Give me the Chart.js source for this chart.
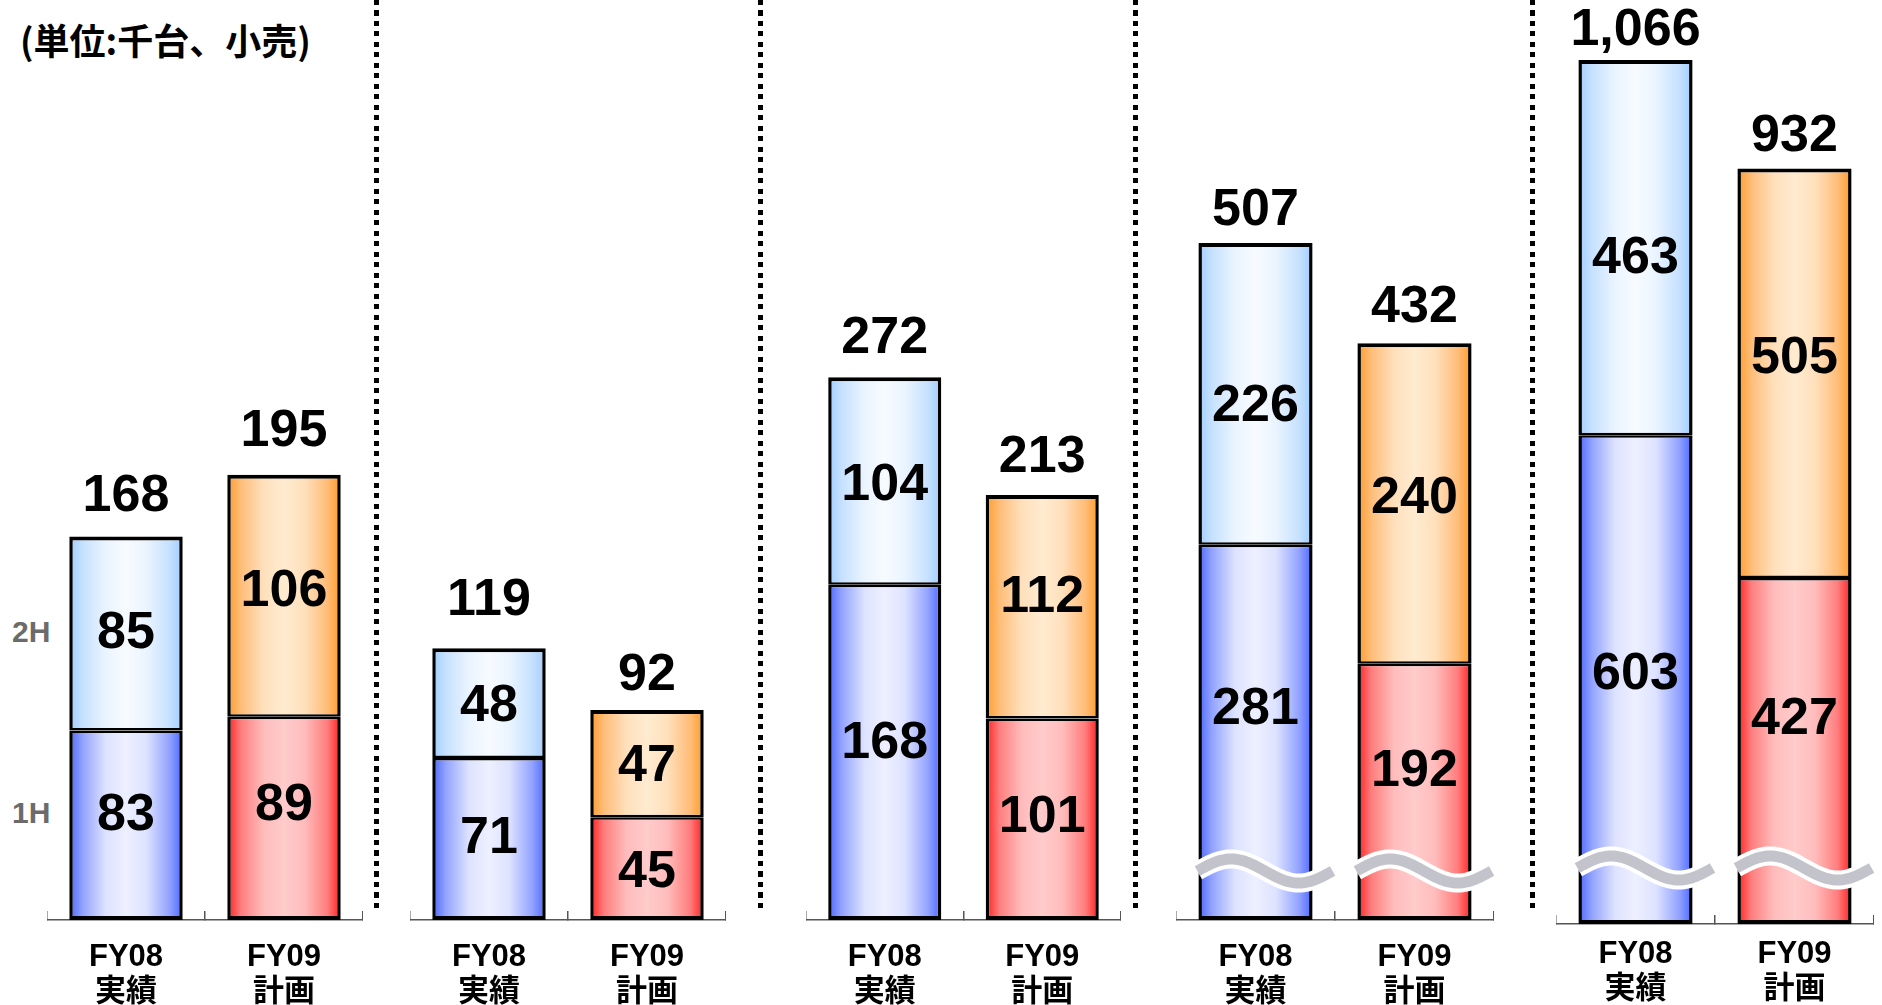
<!DOCTYPE html>
<html>
<head>
<meta charset="utf-8">
<script src="https://cdn.jsdelivr.net/npm/chart.js@4.4.1/dist/chart.umd.min.js"></script>
<style>
html,body{margin:0;padding:0;background:#fff;}
body{width:1882px;height:1005px;position:relative;overflow:hidden;}
.box{position:absolute;top:0;height:1005px;}
.sep{position:absolute;top:0;width:5px;height:910px;background:repeating-linear-gradient(to bottom,#000 0 5px,transparent 5px 10.5px);}
#unit{position:absolute;left:20px;top:21px;font:bold 36px "Noto Sans CJK JP";line-height:1;white-space:nowrap;}
.half{position:absolute;left:12px;font:bold 30px "Liberation Sans";color:#6b6b6b;line-height:1;}
</style>
</head>
<body>
<div id="unit">(単位:千台、小売)</div>
<div class="half" style="top:617px">2H</div>
<div class="half" style="top:798px">1H</div>

<div class="sep" style="left:374px"></div>
<div class="sep" style="left:758px"></div>
<div class="sep" style="left:1133px"></div>
<div class="sep" style="left:1530px"></div>

<div class="box" style="left:47px;width:316px"><canvas id="g0" width="316" height="1005"></canvas></div>
<div class="box" style="left:410px;width:316px"><canvas id="g1" width="316" height="1005"></canvas></div>
<div class="box" style="left:806px;width:315px"><canvas id="g2" width="315" height="1005"></canvas></div>
<div class="box" style="left:1176px;width:318px"><canvas id="g3" width="318" height="1005"></canvas></div>
<div class="box" style="left:1556px;width:318px"><canvas id="g4" width="318" height="1005"></canvas></div>

<script>
// data (thousand units, retail), one entry per panel: [FY08 actual, FY09 plan]
const categories = [['FY08', '実績'], ['FY09', '計画']];
const firstHalf  = [[83, 89], [71, 45], [168, 101], [281, 192], [603, 427]];
const secondHalf = [[85, 106], [48, 47], [104, 112], [226, 240], [463, 505]];
const totals     = [[168, 195], [119, 92], [272, 213], [507, 432], [1066, 932]];
const hasBreak   = [false, false, false, true, true];

// per panel scale / layout
const yMax      = [403, 403, 461, 689, 1140];
const axisY     = [920, 920, 920, 920, 924];
const tickPad   = [29, 29, 29, 29, 22];
const totalGap  = [[44, 47], [52, 39], [43, 42], [37, 40], [34, 36]];
const shift1H   = [[-14, -17], [-5, 0], [-13, -6], [-27, -24], [-9, -36]];
const shift2H   = [[-4, -8], [-1, -1], [0, -13], [8, -9], [7, -19]];
const waveUp    = [0, 0, 0, 49, 56];

const BAR_PCT = 0.718;
const FONT = '"Liberation Sans", "Noto Sans CJK JP", sans-serif';

// gradient colours: [edge, between, light, centre]
const colBlue  = ['#4a68ff', '#93a3ff', '#dde2ff', '#eef0ff'];
const colSky   = ['#9fcdff', '#c6e1ff', '#eaf4ff', '#f7fbff'];
const colRed   = ['#ff1f1f', '#ff7d7d', '#ffbcbc', '#ffcbcb'];
const colOrng  = ['#ff9a2a', '#ffbd78', '#ffe0bc', '#ffebd0'];

function grad(colsByIndex){
  return (c) => {
    const cols = colsByIndex[c.dataIndex] || colsByIndex[0];
    const chart = c.chart, area = chart.chartArea;
    if(!area || c.type !== 'data') return cols[0];
    const x = chart.scales.x.getPixelForValue(c.dataIndex);
    const hw = (area.right - area.left) / 2 * BAR_PCT / 2;
    const g = chart.ctx.createLinearGradient(x - hw, 0, x + hw, 0);
    g.addColorStop(0, cols[0]);
    g.addColorStop(0.12, cols[1]);
    g.addColorStop(0.32, cols[2]);
    g.addColorStop(0.5, cols[3]);
    g.addColorStop(0.68, cols[2]);
    g.addColorStop(0.88, cols[1]);
    g.addColorStop(1, cols[0]);
    return g;
  };
}

// Wave break marks + value labels
const labelPlugin = {
  id: 'segLabels',
  afterDatasetsDraw(chart, args, opts){
    const p = opts.panel;
    const ctx = chart.ctx;
    const m1 = chart.getDatasetMeta(0).data;
    const m2 = chart.getDatasetMeta(1).data;
    ctx.save();

    if(hasBreak[p]){
      const cy = chart.chartArea.bottom - waveUp[p];
      m1.forEach(el => {
        const b = el.getProps(['x', 'width'], true);
        const x0 = b.x - b.width / 2 - 1, x1 = b.x + b.width / 2 + 20;
        ctx.beginPath();
        for(let k = 0; k <= 60; k++){
          const t = k / 60;
          const px = x0 + (x1 - x0) * t, py = cy - 12 * Math.sin(2 * Math.PI * t);
          if(k == 0) ctx.moveTo(px, py); else ctx.lineTo(px, py);
        }
        ctx.lineCap = 'butt';
        ctx.lineJoin = 'round';
        ctx.strokeStyle = '#fff';
        ctx.lineWidth = 19;
        ctx.stroke();
        ctx.strokeStyle = '#c3c3cb';
        ctx.lineWidth = 11;
        ctx.stroke();
      });
    }

    ctx.font = 'bold 52px ' + FONT;
    ctx.fillStyle = '#000';
    ctx.textAlign = 'center';
    ctx.textBaseline = 'alphabetic';
    const half = 52 * 0.358;
    [[m1, firstHalf, shift1H], [m2, secondHalf, shift2H]].forEach(([meta, vals, shift]) => {
      meta.forEach((el, i) => {
        const b = el.getProps(['x', 'y', 'base'], true);
        const cy = (b.y + b.base) / 2 + shift[p][i];
        ctx.fillText(vals[p][i].toLocaleString('en-US'), b.x, cy + half);
      });
    });
    m2.forEach((el, i) => {
      const b = el.getProps(['x', 'y'], true);
      ctx.fillText(totals[p][i].toLocaleString('en-US'), b.x, b.y - totalGap[p][i] + half);
    });
    ctx.restore();
  }
};

for(let p = 0; p < 5; p++){
  const ctx = document.getElementById('g' + p).getContext('2d');
  new Chart(ctx, {
    type: 'bar',
    data: {
      labels: categories,
      datasets: [{
        label: '1H',
        data: firstHalf[p],
        backgroundColor: grad([colBlue, colRed]),
        borderColor: '#000',
        borderWidth: {top: 2.5, bottom: 4, left: 3.5, right: 3.5},
        borderSkipped: false
      }, {
        label: '2H',
        data: secondHalf[p],
        backgroundColor: grad([colSky, colOrng]),
        borderColor: '#000',
        borderWidth: {top: 4, bottom: 2.5, left: 3.5, right: 3.5},
        borderSkipped: false
      }]
    },
    options: {
      responsive: false,
      animation: false,
      events: [],
      layout: {padding: 0},
      datasets: {bar: {categoryPercentage: 1, barPercentage: BAR_PCT}},
      plugins: {legend: {display: false}, tooltip: {enabled: false}, segLabels: {panel: p}},
      scales: {
        x: {
          stacked: true,
          offset: true,
          grid: {offset: true, drawOnChartArea: false, drawTicks: true, tickLength: -9, color: '#555', lineWidth: 1.5},
          border: {display: true, color: '#555', width: 1.5},
          ticks: {color: '#000', font: {family: FONT, size: 31, weight: 'bold', lineHeight: 1.12},
                  padding: tickPad[p], maxRotation: 0, autoSkip: false},
          afterFit: (s) => { s.height = 1005 - axisY[p]; }
        },
        y: {display: false, stacked: true, min: 0, max: yMax[p]}
      }
    },
    plugins: [labelPlugin]
  });
}
</script>
</body>
</html>
